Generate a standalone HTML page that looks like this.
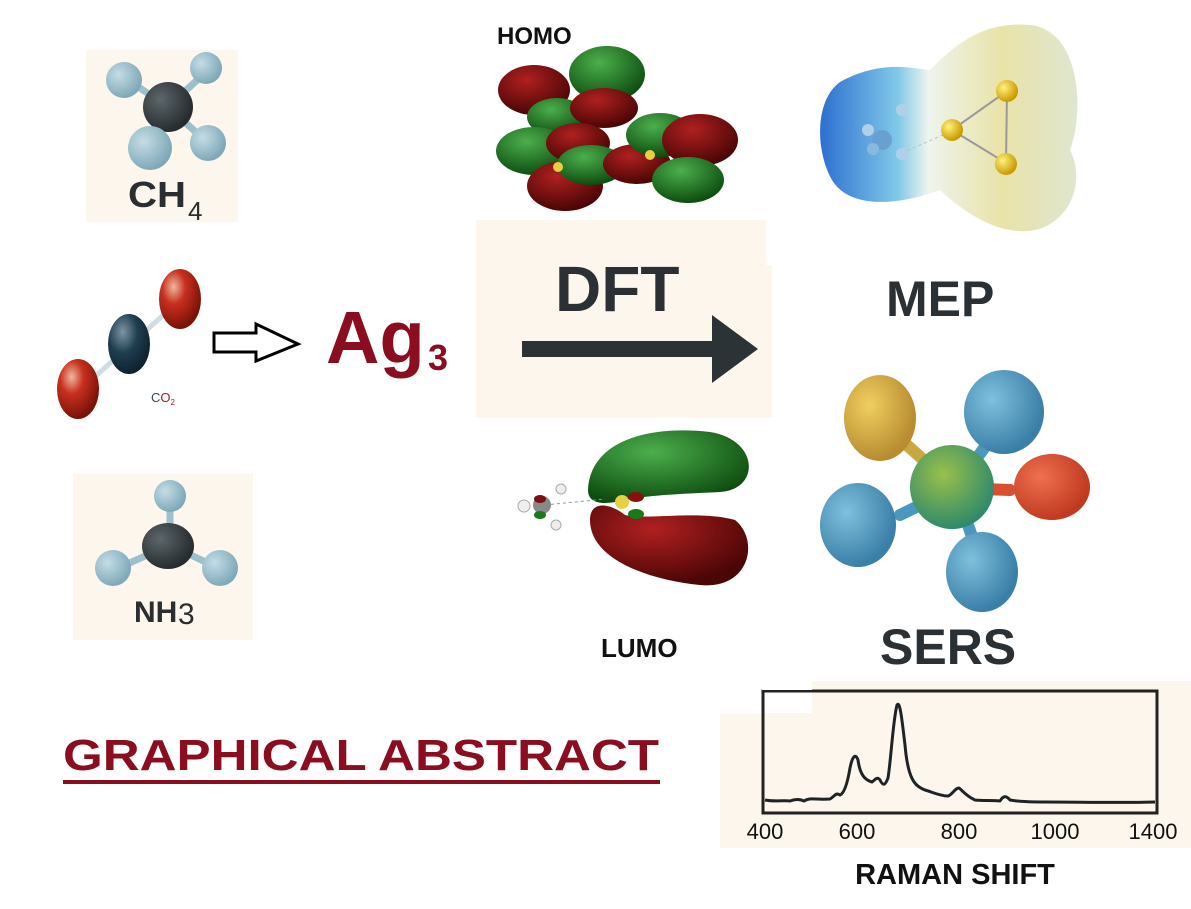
<!DOCTYPE html>
<html><head><meta charset="utf-8"><style>
html,body{margin:0;padding:0;background:#fff;}
svg{display:block;}
text{font-family:"Liberation Sans",sans-serif;}
</style></head><body>
<svg width="1191" height="909" viewBox="0 0 1191 909" xmlns="http://www.w3.org/2000/svg">
<defs>
<radialGradient id="hb" cx="35%" cy="35%" r="65%"><stop offset="0" stop-color="#c4dde6"/><stop offset="1" stop-color="#7fa9b8"/></radialGradient>
<radialGradient id="cb" cx="35%" cy="35%" r="65%"><stop offset="0" stop-color="#5c666b"/><stop offset="1" stop-color="#262c2f"/></radialGradient>
<radialGradient id="ob" cx="35%" cy="30%" r="70%"><stop offset="0" stop-color="#f0b8a0"/><stop offset="0.4" stop-color="#c8301e"/><stop offset="1" stop-color="#7a1208"/></radialGradient>
<radialGradient id="co" cx="35%" cy="30%" r="70%"><stop offset="0" stop-color="#7d95a5"/><stop offset="0.5" stop-color="#1f3e50"/><stop offset="1" stop-color="#0f2230"/></radialGradient>
<radialGradient id="gr" cx="40%" cy="30%" r="70%"><stop offset="0" stop-color="#4caf4c"/><stop offset="1" stop-color="#0d4d10"/></radialGradient>
<radialGradient id="rd" cx="40%" cy="30%" r="70%"><stop offset="0" stop-color="#b02020"/><stop offset="1" stop-color="#4a0505"/></radialGradient>
<linearGradient id="mep" x1="0" x2="1"><stop offset="0" stop-color="#2d6fd0"/><stop offset="0.3" stop-color="#7fc8e8"/><stop offset="0.42" stop-color="#eef4ee"/><stop offset="0.7" stop-color="#e9e3a8"/><stop offset="1" stop-color="#dfe6d0"/></linearGradient>
<radialGradient id="yb" cx="35%" cy="35%" r="65%"><stop offset="0" stop-color="#fff27a"/><stop offset="1" stop-color="#c89a00"/></radialGradient>
<radialGradient id="sb" cx="35%" cy="35%" r="65%"><stop offset="0" stop-color="#7fc0dc"/><stop offset="1" stop-color="#3a7fa8"/></radialGradient>
<radialGradient id="sy" cx="35%" cy="35%" r="65%"><stop offset="0" stop-color="#f0cf60"/><stop offset="1" stop-color="#b88c30"/></radialGradient>
<radialGradient id="sr" cx="35%" cy="35%" r="65%"><stop offset="0" stop-color="#f07050"/><stop offset="1" stop-color="#c03a20"/></radialGradient>
<radialGradient id="sg" cx="40%" cy="35%" r="65%"><stop offset="0" stop-color="#9ac04a"/><stop offset="1" stop-color="#2f8a6a"/></radialGradient>
</defs>

<rect x="86" y="50" width="152" height="172" fill="#fdf6ec"/>
<rect x="73" y="474" width="180" height="166" fill="#fdf6ec"/>
<rect x="476" y="220" width="290" height="198" fill="#fdf6ec"/>
<rect x="766" y="265" width="6" height="153" fill="#fdf6ec"/>
<rect x="720" y="681" width="471" height="167" fill="#fdf6ec"/>
<rect x="720" y="681" width="42" height="33" fill="#fff"/>
<rect x="762" y="681" width="50" height="32" fill="#fff"/>

<!-- CH4 -->
<g stroke="#9ec0cc" stroke-width="7">
<line x1="168" y1="107" x2="128" y2="80"/><line x1="168" y1="107" x2="208" y2="70"/>
<line x1="168" y1="107" x2="150" y2="148"/><line x1="168" y1="107" x2="208" y2="143"/></g>
<circle cx="124" cy="80" r="18" fill="url(#hb)"/><circle cx="206" cy="68" r="16" fill="url(#hb)"/>
<circle cx="168" cy="107" r="25" fill="url(#cb)"/>
<circle cx="150" cy="148" r="22" fill="url(#hb)"/><circle cx="208" cy="143" r="18" fill="url(#hb)"/>
<text x="128" y="207" font-size="36" font-weight="bold" fill="#2b2e30" textLength="58" lengthAdjust="spacingAndGlyphs">CH</text>
<text x="188" y="220" font-size="26" fill="#2b2e30">4</text>

<!-- CO2 -->
<line x1="78" y1="392" x2="180" y2="300" stroke="#d0dce4" stroke-width="5"/>
<ellipse cx="78" cy="389" rx="21" ry="30" fill="url(#ob)"/>
<ellipse cx="129" cy="344" rx="21" ry="30" fill="url(#co)"/>
<ellipse cx="180" cy="299" rx="21" ry="30" fill="url(#ob)"/>
<text x="151" y="402" font-size="13" fill="#34495a">C<tspan fill="#a02020">O</tspan><tspan font-size="8" fill="#a02020" dy="3">2</tspan></text>

<polygon points="214,333 256,333 256,324 298,344 256,361 256,352 214,352" fill="#fff" stroke="#000" stroke-width="3"/>
<text x="326" y="363" font-size="74" font-weight="bold" fill="#8b0e20">Ag</text>
<text x="428" y="370" font-size="36" font-weight="bold" fill="#8b0e20">3</text>

<!-- NH3 -->
<g stroke="#9ec0cc" stroke-width="7">
<line x1="170" y1="545" x2="170" y2="498"/><line x1="170" y1="545" x2="118" y2="568"/><line x1="170" y1="545" x2="218" y2="568"/></g>
<circle cx="170" cy="496" r="16" fill="url(#hb)"/>
<circle cx="113" cy="568" r="18" fill="url(#hb)"/><circle cx="220" cy="568" r="18" fill="url(#hb)"/>
<ellipse cx="168" cy="546" rx="26" ry="23" fill="url(#cb)"/>
<text x="134" y="622" font-size="30" font-weight="bold" fill="#2b2e30">NH</text>
<text x="178" y="624" font-size="30" fill="#2b2e30">3</text>

<!-- HOMO -->
<text x="497" y="44" font-size="24" font-weight="bold" fill="#111">HOMO</text>
<ellipse cx="534" cy="90" rx="36" ry="25" fill="url(#rd)"/>
<ellipse cx="607" cy="74" rx="38" ry="28" fill="url(#gr)"/>
<ellipse cx="557" cy="117" rx="30" ry="19" fill="url(#gr)"/>
<ellipse cx="604" cy="108" rx="34" ry="20" fill="url(#rd)"/>
<ellipse cx="534" cy="151" rx="38" ry="24" fill="url(#gr)"/>
<ellipse cx="578" cy="143" rx="32" ry="20" fill="url(#rd)"/>
<ellipse cx="565" cy="186" rx="38" ry="25" fill="url(#rd)"/>
<ellipse cx="591" cy="165" rx="34" ry="20" fill="url(#gr)"/>
<ellipse cx="637" cy="164" rx="34" ry="20" fill="url(#rd)"/>
<ellipse cx="660" cy="135" rx="34" ry="22" fill="url(#gr)"/>
<ellipse cx="700" cy="140" rx="38" ry="26" fill="url(#rd)"/>
<ellipse cx="688" cy="180" rx="36" ry="23" fill="url(#gr)"/>
<circle cx="558" cy="167" r="5" fill="#e8d040"/><circle cx="650" cy="155" r="5" fill="#e8d040"/>

<text x="555" y="311" font-size="64" font-weight="bold" fill="#2a3034">DFT</text>
<polygon points="522,341 712,341 712,315 758,349 712,383 712,357 522,357" fill="#2c3336"/>

<!-- LUMO -->
<path d="M588,490 C590,440 650,425 710,432 C760,440 760,490 720,492 C680,494 650,495 625,500 C605,505 588,505 588,490 Z" fill="url(#gr)"/>
<path d="M590,520 C590,500 610,503 625,515 C650,520 700,510 735,520 C760,540 750,590 700,585 C650,580 590,560 590,520 Z" fill="url(#rd)"/>
<circle cx="622" cy="502" r="7" fill="#e8d040"/>
<ellipse cx="636" cy="497" rx="8" ry="5" fill="#8a1010"/><ellipse cx="636" cy="514" rx="8" ry="5" fill="#1a7a1a"/>
<line x1="545" y1="505" x2="605" y2="499" stroke="#999" stroke-dasharray="3,3"/>
<circle cx="542" cy="505" r="9" fill="#888"/><ellipse cx="540" cy="499" rx="6" ry="4" fill="#7a1010"/><ellipse cx="540" cy="515" rx="6" ry="4" fill="#1a7a1a"/>
<circle cx="524" cy="506" r="6" fill="#eee" stroke="#aaa"/><circle cx="561" cy="489" r="5" fill="#eee" stroke="#aaa"/><circle cx="556" cy="525" r="5" fill="#eee" stroke="#aaa"/>
<text x="601" y="657" font-size="26" font-weight="bold" fill="#111">LUMO</text>

<!-- MEP -->
<path d="M840,82 C880,60 910,68 930,70 C950,50 980,20 1030,25 C1080,30 1085,110 1070,150 C1090,190 1060,240 1010,230 C980,225 950,200 940,190 C900,205 850,210 832,180 C815,150 815,100 840,82 Z" fill="url(#mep)"/>
<line x1="952" y1="130" x2="1007" y2="91" stroke="#999" stroke-width="2"/><line x1="952" y1="130" x2="1006" y2="163" stroke="#999" stroke-width="2"/><line x1="1007" y1="91" x2="1006" y2="163" stroke="#999" stroke-width="2"/>
<line x1="902" y1="153" x2="945" y2="134" stroke="#bbb" stroke-dasharray="3,3"/>
<circle cx="1007" cy="91" r="11" fill="url(#yb)"/><circle cx="952" cy="130" r="11" fill="url(#yb)"/><circle cx="1006" cy="164" r="11" fill="url(#yb)"/>
<circle cx="882" cy="140" r="10" fill="#6aa0d0"/><circle cx="868" cy="130" r="6" fill="#b0d0e8"/><circle cx="902" cy="110" r="6" fill="#b0d0e8"/><circle cx="873" cy="149" r="6" fill="#8ab8e0"/><circle cx="902" cy="154" r="6" fill="#b0d0e8"/>
<text x="886" y="316" font-size="50" font-weight="bold" fill="#2a3034">MEP</text>

<!-- SERS molecule -->
<g stroke-width="12" stroke-linecap="round">
<line x1="955" y1="488" x2="890" y2="430" stroke="#c8a840"/>
<line x1="955" y1="488" x2="990" y2="440" stroke="#4a98c0"/>
<line x1="955" y1="488" x2="1010" y2="490" stroke="#d85030"/>
<line x1="955" y1="488" x2="900" y2="515" stroke="#4a98c0"/>
<line x1="955" y1="488" x2="975" y2="545" stroke="#4a98c0"/></g>
<ellipse cx="880" cy="418" rx="36" ry="43" fill="url(#sy)"/>
<ellipse cx="1004" cy="412" rx="40" ry="42" fill="url(#sb)"/>
<ellipse cx="1052" cy="487" rx="38" ry="33" fill="url(#sr)"/>
<ellipse cx="858" cy="525" rx="38" ry="42" fill="url(#sb)"/>
<ellipse cx="982" cy="572" rx="36" ry="40" fill="url(#sb)"/>
<circle cx="952" cy="487" r="42" fill="url(#sg)"/>
<text x="880" y="664" font-size="50" font-weight="bold" fill="#2a3034">SERS</text>

<text x="63" y="770" font-size="44" font-weight="bold" fill="#8b0e20" textLength="596" lengthAdjust="spacingAndGlyphs">GRAPHICAL ABSTRACT</text>
<rect x="63" y="780" width="597" height="4" fill="#8b0e20"/>

<!-- spectrum -->
<rect x="763" y="691" width="394" height="122" fill="none" stroke="#222" stroke-width="3"/>
<rect x="762" y="681" width="50" height="9" fill="#fff"/>
<path d="M765,800 C775,802 785,800 790,801 C795,799 800,799 804,801 C810,797 815,800 830,799 C835,796 836,792 840,795 C845,793 848,780 850,768 C852,758 855,752 858,760 C860,775 865,780 872,782 C875,780 877,776 880,780 C883,786 885,786 888,778 C891,760 893,720 897,705 C900,700 902,720 905,745 C908,780 915,786 925,790 C932,792 940,796 948,796 C952,795 955,788 959,788 C962,790 966,796 975,800 C985,801 990,800 1000,801 C1003,796 1006,795 1010,800 C1020,802 1035,802 1045,802 C1080,802 1120,803 1155,802" fill="none" stroke="#1e2426" stroke-width="3" stroke-linejoin="round"/>
<g font-size="22" fill="#111" text-anchor="middle">
<text x="765" y="839">400</text><text x="857" y="839">600</text><text x="959" y="839">800</text><text x="1055" y="839">1000</text><text x="1153" y="839">1400</text></g>
<text x="955" y="884" font-size="29" font-weight="bold" fill="#111" text-anchor="middle">RAMAN SHIFT</text>
</svg>
</body></html>
